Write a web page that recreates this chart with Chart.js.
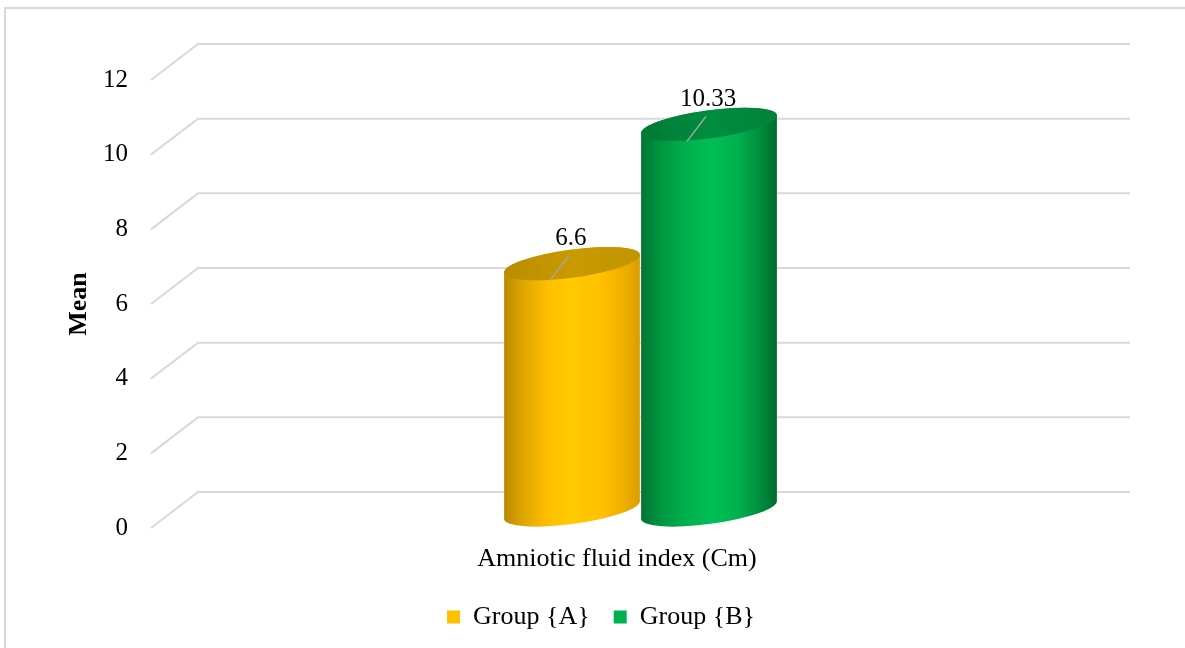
<!DOCTYPE html>
<html>
<head>
<meta charset="utf-8">
<script src="https://cdn.jsdelivr.net/npm/chart.js@4/dist/chart.umd.min.js"></script>
<style>
  html, body { margin: 0; padding: 0; background: #fff; }
  #wrap { position: relative; width: 1185px; height: 648px; }
</style>
</head>
<body>
<div id="wrap"><canvas id="chart" width="1185" height="648"></canvas></div>
<script>
const categories = ['Amniotic fluid index (Cm)'];
const seriesNames = ['Group {A}', 'Group {B}'];
const groupA = [6.6];
const groupB = [10.33];
const seriesColors = ['#FFC000', '#00B050'];
const yMin = 0;
const yMax = 12;
const yStep = 2;

const FONT = "'Times New Roman', 'Liberation Serif', serif";

// 3d look: back wall offset and the depth the cylinders stand at
const BACK = { dx: 47, dy: -36 };
const MID = { dx: 23.5, dy: -18 };

const bodyStops = [
  [[0, '#B88800'], [0.12, '#D9A200'], [0.32, '#FFBE00'], [0.5, '#FFCA00'], [0.72, '#FFC000'], [0.88, '#EFAE00'], [1, '#D89C00']],
  [[0, '#007434'], [0.15, '#009640'], [0.35, '#00B24E'], [0.52, '#00BE56'], [0.7, '#00B24E'], [0.88, '#008C3C'], [1, '#006A2C']]
];
const topStops = [
  [[0, '#B98C00'], [0.5, '#C99A00'], [1, '#C29400']],
  [[0, '#007A36'], [0.5, '#008C3F'], [1, '#00843A']]
];

function drawCylinder(ctx, bar, body, top) {
  const cx = bar.x + MID.dx;
  const topY = bar.y + MID.dy;
  const baseY = bar.base + MID.dy;
  const rx = bar.width / 2;
  const ry = 14;
  const rot = -0.135;
  const c = Math.cos(rot), s = Math.sin(rot);

  const g = ctx.createLinearGradient(cx - rx, 0, cx + rx, 0);
  body.forEach(([o, col]) => g.addColorStop(o, col));
  ctx.beginPath();
  ctx.ellipse(cx, baseY, rx, ry, rot, 0, Math.PI);
  ctx.lineTo(cx - rx * c, topY - rx * s);
  ctx.ellipse(cx, topY, rx, ry, rot, Math.PI, 2 * Math.PI);
  ctx.closePath();
  ctx.fillStyle = g;
  ctx.fill();

  const tg = ctx.createLinearGradient(cx - rx, 0, cx + rx, 0);
  top.forEach(([o, col]) => tg.addColorStop(o, col));
  ctx.beginPath();
  ctx.ellipse(cx, topY, rx, ry, rot, 0, 2 * Math.PI);
  ctx.fillStyle = tg;
  ctx.fill();
}

const frame3d = {
  id: 'frame3d',
  afterLayout(chart) {
    // legend sits a bit right of the padded box centre in the original
    const lg = chart.legend;
    const shift = 601 - (lg.left + lg.right) / 2;
    lg.left += shift;
    lg.right += shift;
  },
  beforeDraw(chart) {
    const ctx = chart.ctx;
    ctx.save();
    ctx.strokeStyle = '#D9D9D9';
    ctx.lineWidth = 2;
    ctx.beginPath();
    ctx.moveTo(5, 648);
    ctx.lineTo(5, 8);
    ctx.lineTo(1185, 8);
    ctx.stroke();
    ctx.restore();
  },
  beforeDatasetsDraw(chart) {
    const ctx = chart.ctx;
    const y = chart.scales.y;
    const { left, right } = chart.chartArea;
    ctx.save();
    ctx.strokeStyle = '#D9D9D9';
    ctx.lineWidth = 2;
    y.ticks.forEach(t => {
      const py = y.getPixelForValue(t.value);
      ctx.beginPath();
      ctx.moveTo(left, py);
      ctx.lineTo(left + BACK.dx, py + BACK.dy);
      ctx.lineTo(right + BACK.dx, py + BACK.dy);
      ctx.stroke();
    });

    chart.data.datasets.forEach((ds, i) => {
      const meta = chart.getDatasetMeta(i);
      meta.data.forEach(bar => drawCylinder(ctx, bar, bodyStops[i], topStops[i]));
    });

    // value labels with leader lines
    ctx.font = '25px ' + FONT;
    ctx.fillStyle = '#000';
    ctx.textAlign = 'center';
    ctx.textBaseline = 'middle';
    chart.data.datasets.forEach((ds, i) => {
      const meta = chart.getDatasetMeta(i);
      meta.data.forEach((bar, j) => {
        const cx = bar.x + MID.dx;
        const cy = bar.y + MID.dy;
        ctx.strokeStyle = '#A6A6A6';
        ctx.lineWidth = 1.5;
        ctx.beginPath();
        ctx.moveTo(cx - 3, cy - 8);
        ctx.lineTo(cx - 22, cy + 17);
        ctx.stroke();
        ctx.fillText(String(ds.data[j]), cx - 1, cy - 25);
      });
    });
    ctx.restore();
    return false;
  }
};

new Chart(document.getElementById('chart'), {
  type: 'bar',
  data: {
    labels: categories,
    datasets: [
      { label: seriesNames[0], data: groupA, backgroundColor: seriesColors[0] },
      { label: seriesNames[1], data: groupB, backgroundColor: seriesColors[1] }
    ]
  },
  options: {
    responsive: false,
    animation: false,
    events: [],
    layout: { padding: { top: 80, right: 102, left: 0, bottom: 8 } },
    datasets: {
      bar: { categoryPercentage: 0.294, barPercentage: 1 }
    },
    scales: {
      x: {
        grid: { display: false, drawTicks: false },
        border: { display: false },
        ticks: { color: '#000', padding: 16, font: { family: FONT, size: 26 } },
        afterFit(scale) { scale.height = 52; }
      },
      y: {
        min: yMin,
        max: yMax,
        grid: { display: false, drawTicks: false },
        border: { display: false },
        ticks: { stepSize: yStep, color: '#000', padding: 23, font: { family: FONT, size: 25 } },
        title: {
          display: true,
          text: 'Mean',
          color: '#000',
          font: { family: FONT, size: 26, weight: 'bold' },
          padding: { top: 64, bottom: 0 }
        },
        afterFit(scale) { scale.width = 151; }
      }
    },
    plugins: {
      legend: {
        position: 'bottom',
        labels: {
          color: '#000',
          boxWidth: 13,
          boxHeight: 13,
          padding: 24,
          font: { family: FONT, size: 26 }
        }
      },
      tooltip: { enabled: false }
    }
  },
  plugins: [frame3d]
});
</script>
</body>
</html>
